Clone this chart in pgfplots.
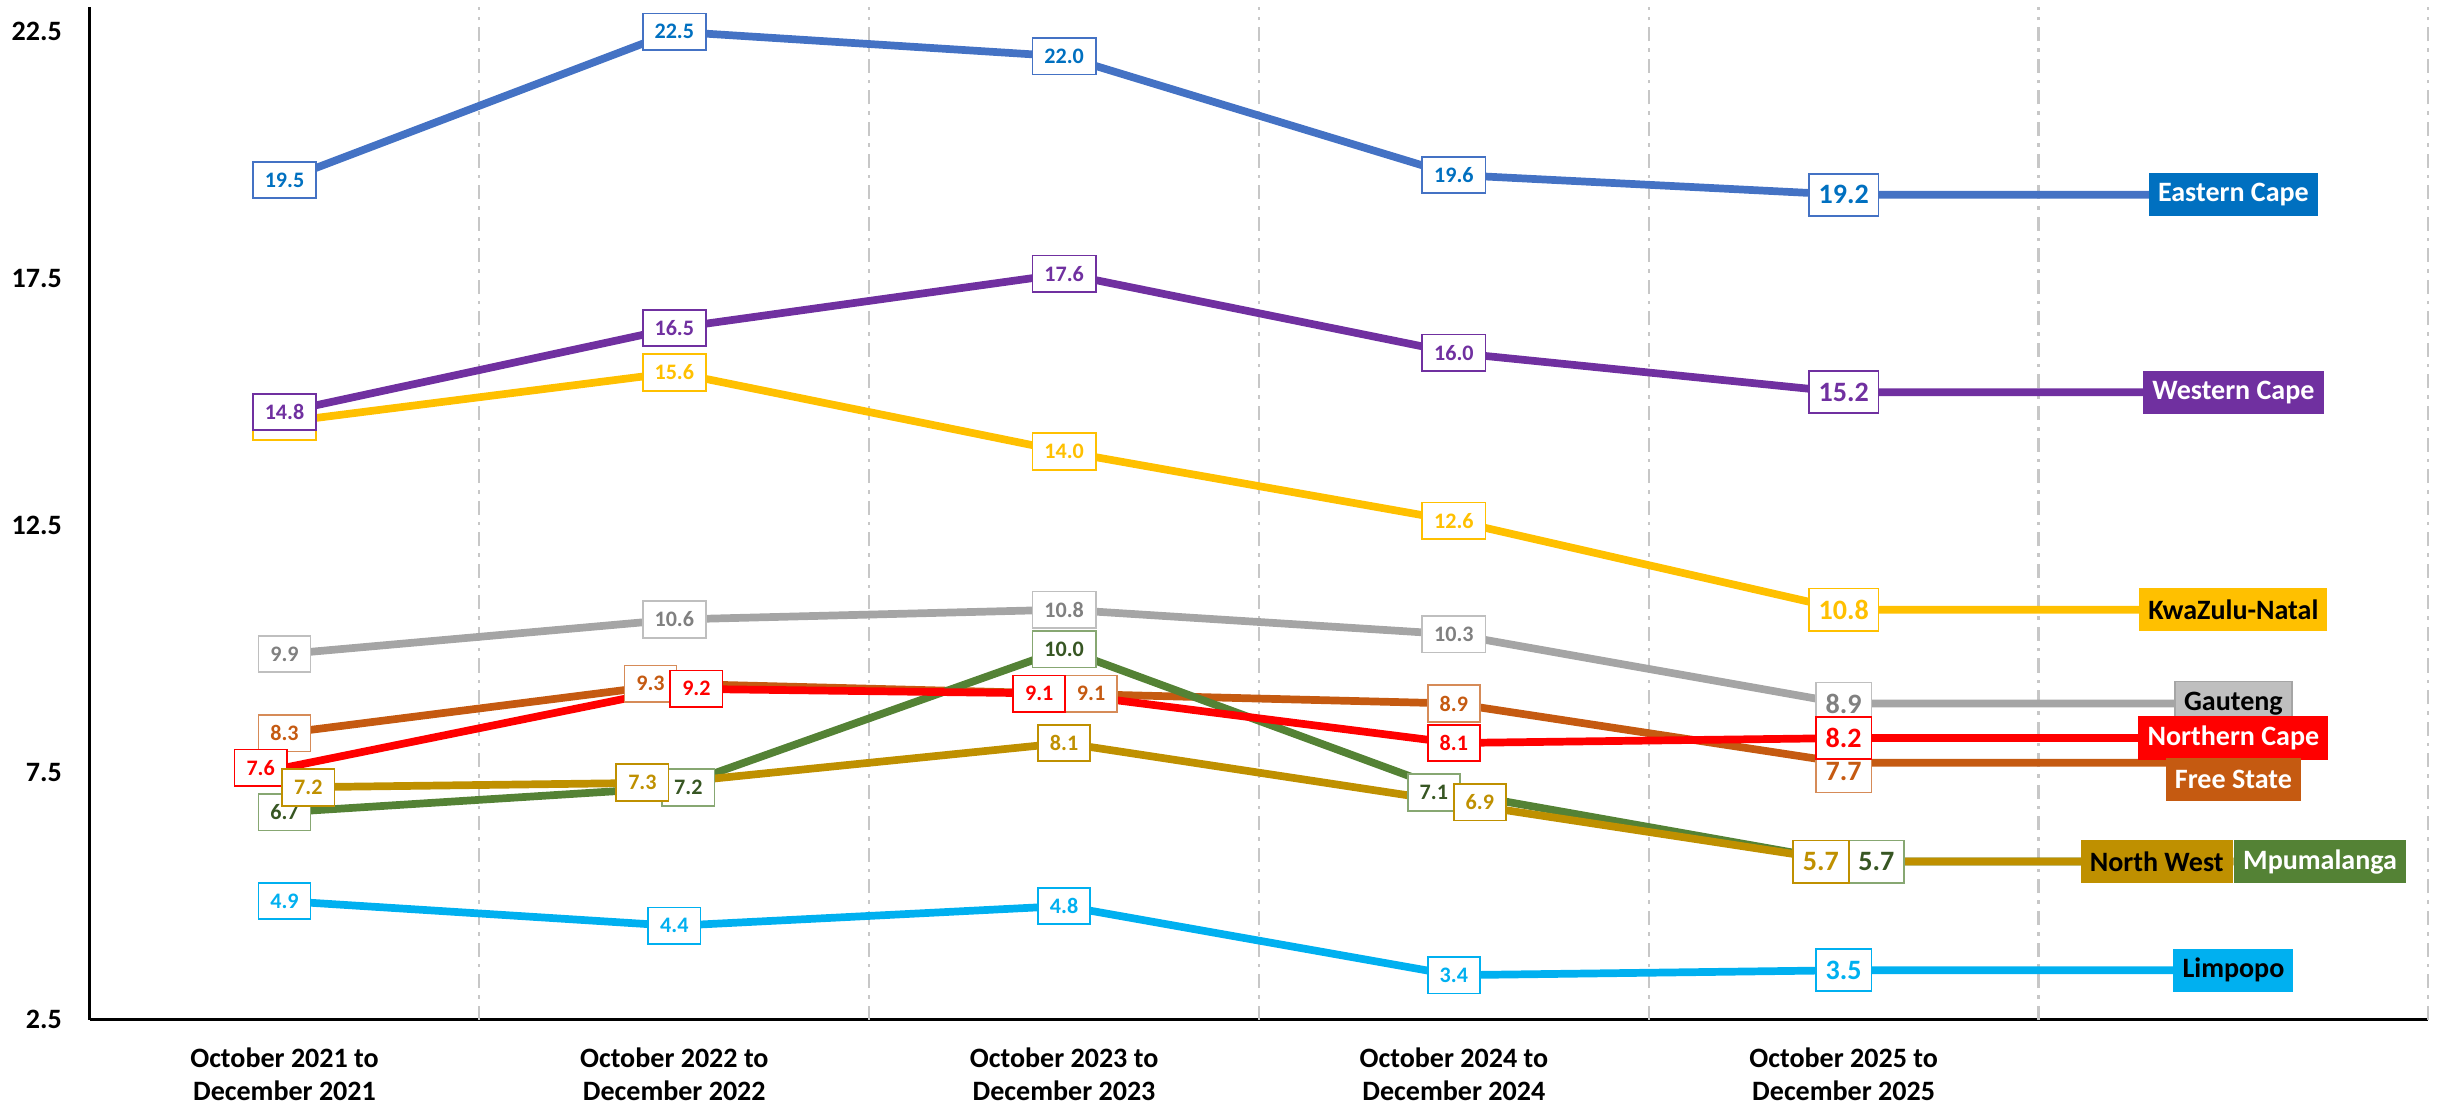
\documentclass[border=0pt]{standalone}
\usepackage{pgfplots}
\pgfplotsset{compat=1.18}
\usepackage{pgfplotstable}
\usepackage{fontspec}
\setmainfont{Carlito}
\usetikzlibrary{calc}

\definecolor{ecL}{HTML}{4472C4}
\definecolor{ecT}{HTML}{0070C0}
\definecolor{wc}{HTML}{7030A0}
\definecolor{kzn}{HTML}{FFC000}
\definecolor{gL}{HTML}{A5A5A5}
\definecolor{gT}{HTML}{808080}
\definecolor{gB}{HTML}{BFBFBF}
\definecolor{nc}{HTML}{FF0000}
\definecolor{fs}{HTML}{C55A11}
\definecolor{nw}{HTML}{BF9000}
\definecolor{mp}{HTML}{548235}
\definecolor{mpT}{HTML}{375623}
\definecolor{lp}{HTML}{00B0F0}

% columns: x, value, label x-shift (pt), label y-shift (pt)
\pgfplotstableread{
x y dx dy
0 19.5 0 0
1 22.5 0 0
2 22.0 0 0
3 19.6 0 0
4 19.2 0 0
5 19.2 0 0
}\ec
\pgfplotstableread{
x y dx dy
0 8.3 0 0
1 9.3 -6.8 0
2 9.1 7.7 0
3 8.9 0 0
4 7.7 0 -2.5
5 7.7 0 0
}\fst
\pgfplotstableread{
x y dx dy
0 9.9 0 0
1 10.6 0 0
2 10.8 0 0
3 10.3 0 0
4 8.9 0 0
5 8.9 0 0
}\gt
\pgfplotstableread{
x y dx dy
0 14.6 0 0
1 15.6 0 0
2 14.0 0 0
3 12.6 0 0
4 10.8 0 0
5 10.8 0 0
}\kz
\pgfplotstableread{
x y dx dy
0 4.9 0 0
1 4.4 0 0
2 4.8 0 0
3 3.4 0 0
4 3.5 0 0
5 3.5 0 0
}\lpt
\pgfplotstableread{
x y dx dy
0 6.7 0 0
1 7.2 4.0 0
2 10.0 0 0
3 7.1 -5.7 0
4 5.7 9.3 0
5 5.7 0 0
}\mpt
\pgfplotstableread{
x y dx dy
0 7.6 -6.8 0
1 9.2 6.3 0
2 9.1 -7.1 0
3 8.1 0 0
4 8.2 0 0
5 8.2 0 0
}\nct
\pgfplotstableread{
x y dx dy
0 7.2 6.8 0
1 7.3 -9.1 0
2 8.1 0 0
3 6.9 7.4 0
4 5.7 -6.5 0
5 5.7 0 0
}\nwt
\pgfplotstableread{
x y dx dy
0 14.8 0 0
1 16.5 0 0
2 17.6 0 0
3 16.0 0 0
4 15.2 0 0
5 15.2 0 0
}\wct

\newcommand{\serline}[2]{\addplot[#2, line width=2.2pt, mark=none] table[x=x,y=y]{#1};}
\newcommand{\serlabels}[3]{%
\addplot[draw=none, mark=none, point meta=y, restrict x to domain=-1:3.5,
  visualization depends on={\thisrow{dx}\as\dx},
  visualization depends on={\thisrow{dy}\as\dy},
  nodes near coords={\pgfmathprintnumber[fixed,fixed zerofill,precision=1]{\pgfplotspointmeta}},
  every node near coord/.append style={anchor=center, xshift=\dx pt, yshift=\dy pt, fill=white, draw=#3, line width=0.5pt, text=#2,
    font=\bfseries\fontsize{6.3}{7}\selectfont, inner xsep=3.4pt, inner ysep=0pt, minimum height=10.4pt}] table[x=x,y=y]{#1};
\addplot[draw=none, mark=none, point meta=y, restrict x to domain=3.9:4.1,
  visualization depends on={\thisrow{dx}\as\dx},
  visualization depends on={\thisrow{dy}\as\dy},
  nodes near coords={\pgfmathprintnumber[fixed,fixed zerofill,precision=1]{\pgfplotspointmeta}},
  every node near coord/.append style={anchor=center, xshift=\dx pt, yshift=\dy pt, fill=white, draw=#3, line width=0.5pt, text=#2,
    font=\bfseries\fontsize{8}{9}\selectfont, inner xsep=2.8pt, inner ysep=0pt, minimum height=12pt}] table[x=x,y=y]{#1};
}

\tikzset{namelab/.style={inner xsep=2.6pt, inner ysep=0pt, minimum height=12.4pt, font=\bfseries\fontsize{8}{9}\selectfont}}

\begin{document}
\begin{tikzpicture}
\begin{axis}[
  name=ax,
  scale only axis,
  width=23.44cm, height=10.15cm,
  xmin=-0.5, xmax=5.5, ymin=2.5, ymax=23,
  clip=false,
  axis x line*=bottom, axis y line*=left,
  axis line style={black, line width=0.8pt, -},
  major tick length=0pt,
  xtick={0,1,2,3,4},
  xticklabels={{October 2021 to\\December 2021},{October 2022 to\\December 2022},{October 2023 to\\December 2023},{October 2024 to\\December 2024},{October 2025 to\\December 2025}},
  xticklabel style={align=center, font=\bfseries\fontsize{8}{9.4}\selectfont, inner ysep=0pt, yshift=-7.7pt},
  extra x ticks={0.5,1.5,2.5,3.5,4.5,5.5},
  extra x tick labels={},
  extra x tick style={grid=major, major grid style={color=black!22, line width=0.6pt, dash pattern=on 4pt off 2pt on 1pt off 2pt}},
  ytick={2.5,7.5,12.5,17.5,22.5},
  /pgf/number format/assume math mode=true,
  yticklabel style={font=\bfseries\fontsize{8}{9.6}\selectfont, xshift=-4.4pt, /pgf/number format/fixed, /pgf/number format/fixed zerofill, /pgf/number format/precision=1},
]
% lines (alphabetical series order)
\serline{\ec}{ecL}
\serline{\fst}{fs}
\serline{\gt}{gL}
\serline{\kz}{kzn}
\serline{\lpt}{lp}
\serline{\mpt}{mp}
\serline{\nct}{nc}
\serline{\nwt}{nw}
\serline{\wct}{wc}
% value labels
\serlabels{\ec}{ecT}{ecL}
\serlabels{\fst}{fs}{fs!70}
\serlabels{\gt}{gT}{gB}
\serlabels{\kz}{kzn}{kzn}
\serlabels{\lpt}{lp}{lp}
\serlabels{\mpt}{mpT}{mp!70}
\serlabels{\nct}{nc}{nc}
\serlabels{\nwt}{nw}{nw}
\serlabels{\wct}{wc}{wc}
% series names
\node[namelab, fill=ecT, text=white] at (axis cs:5,19.2) {Eastern Cape};
\node[namelab, fill=wc, text=white] at (axis cs:5,15.2) {Western Cape};
\node[namelab, fill=kzn, text=black] at (axis cs:5,10.8) {KwaZulu-Natal};
\node[namelab, fill=gB, draw=gL, text=black] at (axis cs:5,8.9) {Gauteng};
\node[namelab, fill=nc, text=white] at (axis cs:5,8.2) {Northern Cape};
\node[namelab, fill=fs, text=white, yshift=-4.8pt] at (axis cs:5,7.7) {Free State};
\node[namelab, fill=nw, text=black, anchor=east] at (axis cs:5,5.7) {North West};
\node[namelab, fill=mp, text=white, anchor=west] at (axis cs:5,5.7) {Mpumalanga};
\node[namelab, fill=lp, text=black] at (axis cs:5,3.5) {Limpopo};
\end{axis}
\path ($(ax.south west)+(-0.88cm,-0.90cm)$) rectangle ($(ax.north east)+(0.08cm,0.07cm)$);
\end{tikzpicture}
\end{document}
